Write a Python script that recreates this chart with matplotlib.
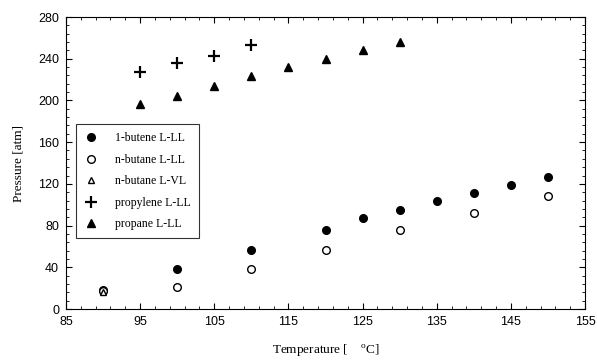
import numpy as np
import matplotlib.pyplot as plt
from matplotlib.ticker import FixedLocator

butene_t = [90, 100, 110, 120, 125, 130, 135, 140, 145, 150]
butene_p = [18, 38, 57, 76, 87, 95, 104, 111, 119, 127]

butane_ll_t = [90, 100, 110, 120, 130, 140, 150]
butane_ll_p = [17, 21, 38, 57, 76, 92, 108]

butane_vl_t = [90]
butane_vl_p = [16]

propylene_t = [95, 100, 105, 110]
propylene_p = [227, 236, 243, 253]

propane_t = [95, 100, 105, 110, 115, 120, 125, 130]
propane_p = [197, 204, 214, 223, 232, 240, 248, 256]


def main() -> None:
    fig = plt.figure(figsize=(5.97, 3.60), dpi=100)
    ax = fig.add_axes([66 / 597, 51 / 360, 519 / 597, 292 / 360])

    ax.plot(butene_t, butene_p, "o", color="black", ms=5.5, label="1-butene L-LL")
    ax.plot(butane_ll_t, butane_ll_p, "o", mfc="white", mec="black", mew=1.0, ms=5.5,
            label="n-butane L-LL")
    ax.plot(butane_vl_t, butane_vl_p, "^", mfc="white", mec="black", mew=1.0, ms=5,
            label="n-butane L-VL")
    ax.plot(propylene_t, propylene_p, "+", color="black", ms=9, mew=1.6,
            label="propylene L-LL")
    ax.plot(propane_t, propane_p, "^", color="black", ms=6, label="propane L-LL")

    ax.set_xlim(85, 155)
    ax.set_ylim(0, 280)
    ax.xaxis.set_major_locator(FixedLocator(np.arange(85, 156, 10)))
    ax.xaxis.set_minor_locator(FixedLocator(np.arange(85, 156, 2)))
    ax.yaxis.set_major_locator(FixedLocator(np.arange(0, 281, 40)))
    ax.yaxis.set_minor_locator(FixedLocator(np.arange(0, 281, 8)))
    ax.tick_params(which="both", direction="in", top=True, right=True,
                   labelsize=9, pad=5)
    ax.tick_params(which="major", length=4)
    ax.tick_params(which="minor", length=2)
    for lab in ax.get_xticklabels() + ax.get_yticklabels():
        lab.set_family("Liberation Sans")

    ax.set_xlabel("Temperature [    $\\mathregular{^{o}}$C]", family="Liberation Serif",
                  fontsize=9.5, labelpad=10)
    ax.set_ylabel("Pressure [atm]", family="Liberation Serif", fontsize=9.5, labelpad=10)

    leg = ax.legend(loc="upper left", bbox_to_anchor=(0.019, 0.633), frameon=True,
                    fancybox=False, edgecolor="black", handlelength=1.2,
                    handletextpad=1.4, labelspacing=0.8, borderpad=0.7,
                    borderaxespad=0, prop={"family": "Liberation Serif", "size": 8.5})
    leg.get_frame().set_linewidth(0.8)

    fig.savefig("out.png", dpi=100)


if __name__ == "__main__":
    main()
